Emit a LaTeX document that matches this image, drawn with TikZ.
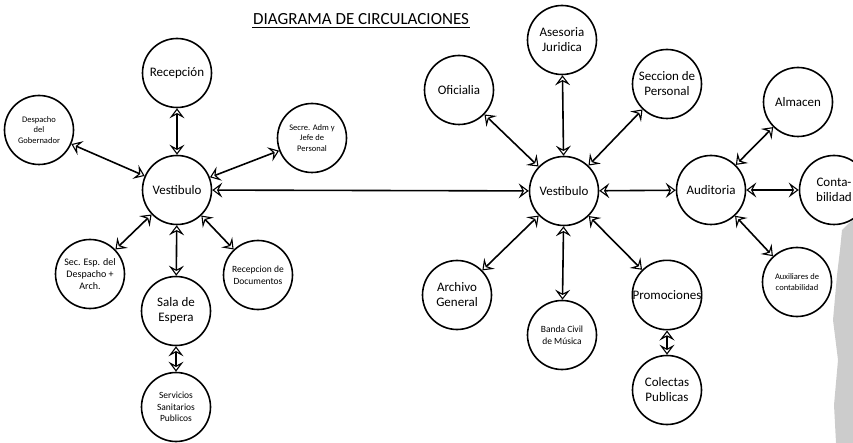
\documentclass[tikz,border=0pt]{standalone}
\usepackage{fontspec}
\setmainfont{Carlito}
\usetikzlibrary{arrows.meta,positioning}

\tikzset{
  punta/.tip={Stealth[open,length=10pt,width=15pt,inset=4pt,line width=1.1pt]}
}

\begin{document}
\begin{tikzpicture}[x=1pt,y=-1pt,
  sala/.style={draw, circle, line width=1.6pt, minimum size=69pt, inner sep=0pt,
    align=center, font=\fontsize{13}{15}\selectfont},
  chica/.style={font=\fontsize{8.5}{10.5}\selectfont},
  flujo/.style={punta-punta, line width=1.6pt},
  titulo/.style={inner sep=1pt, font=\fontsize{17}{19}\selectfont}]
  \clip (0,0) rectangle (853,443);

  % Título
  \node[titulo] (tit) at (361,19) {DIAGRAMA DE CIRCULACIONES};
  \draw[line width=0.8pt] ([yshift=-2pt]tit.south west) -- ([yshift=-2pt]tit.south east);

  % Mancha gris del borde derecho
  \fill[gray!40] (842,230) -- (848,224) -- (853,220) -- (853,443) -- (836,443)
    -- (834,405) -- (838,360) -- (833,320) -- (837,275) -- (840,250) -- cycle;

  % Vestíbulo izquierdo y sus locales
  \node[sala] (vl) at (177,190) {Vestibulo};
  \node[sala] (rec) at (177,73) {Recepción};
  \node[sala,chica] (desp) at (39,130) {Despacho\\del\\Gobernador};
  \node[sala,chica] (secre) at (312,138) {Secre. Adm y\\Jefe de\\Personal};
  \node[sala,font=\fontsize{10}{12}\selectfont] (secesp) at (90,274) {Sec. Esp. del\\Despacho +\\Arch.};
  \node[sala] (espera) at (176,311) {Sala de\\Espera};
  \node[sala,font=\fontsize{9.5}{11.5}\selectfont] (recdoc) at (258,275) {Recepcion de\\Documentos};
  \node[sala,font=\fontsize{9.5}{11.5}\selectfont] (serv) at (176,407) {Servicios\\Sanitarios\\Publicos};

  % Vestíbulo derecho y sus locales
  \node[sala] (vr) at (564,191) {Vestibulo};
  \node[sala] (ofi) at (459,90) {Oficialia};
  \node[sala] (ases) at (562,40) {Asesoria\\Juridica};
  \node[sala] (secc) at (667,84) {Seccion de\\Personal};
  \node[sala] (arch) at (457,295) {Archivo\\General};
  \node[sala,font=\fontsize{9.5}{11.5}\selectfont] (banda) at (562,335) {Banda Civil\\de Música};
  \node[sala] (prom) at (667,295) {Promociones};
  \node[sala] (colec) at (667,390) {Colectas\\Publicas};

  % Auditoría
  \node[sala] (aud) at (711,190) {Auditoria};
  \node[sala] (alm) at (798,102) {Almacen};
  \node[sala] (conta) at (834,190) {Conta-\\bilidad};
  \node[sala,chica] (aux) at (797,282) {Auxiliares de\\contabilidad};

  % Circulaciones
  \draw[flujo] (vl) -- (rec);
  \draw[flujo] (vl) -- (desp);
  \draw[flujo] (vl) -- (secre);
  \draw[flujo] (vl) -- (secesp);
  \draw[flujo] (vl) -- (espera);
  \draw[flujo] (vl) -- (recdoc);
  \draw[flujo] (espera) -- (serv);
  \draw[flujo] (vl) -- (vr);

  \draw[flujo] (vr) -- (ofi);
  \draw[flujo] (vr) -- (ases);
  \draw[flujo] (vr) -- (secc);
  \draw[flujo] (vr) -- (arch);
  \draw[flujo] (vr) -- (banda);
  \draw[flujo] (vr) -- (prom);
  \draw[flujo] (prom) -- (colec);
  \draw[flujo] (vr) -- (aud);

  \draw[flujo] (aud) -- (alm);
  \draw[flujo] (aud) -- (conta);
  \draw[flujo] (aud) -- (aux);
\end{tikzpicture}
\end{document}
